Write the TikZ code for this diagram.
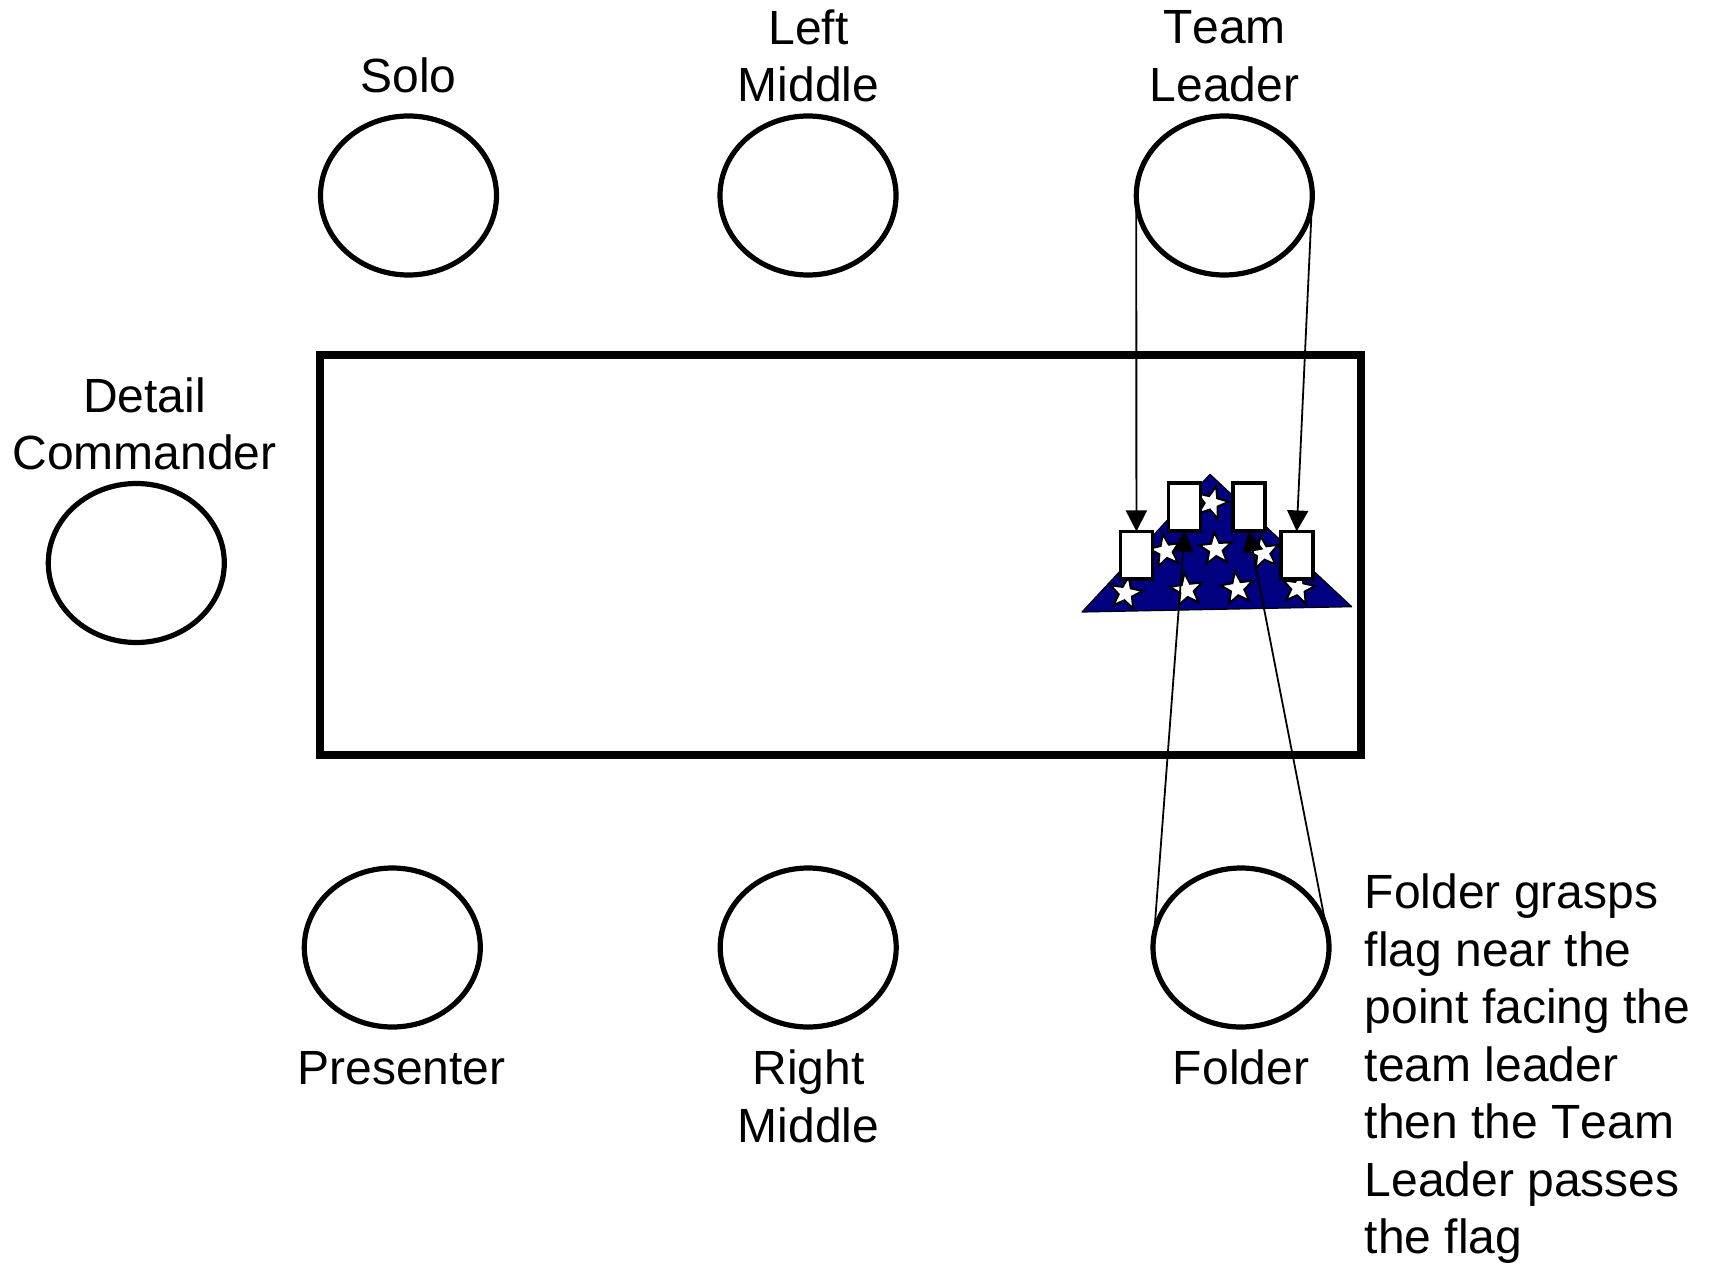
\documentclass[tikz,border=0pt]{standalone}
\usepackage{fontspec}
\setmainfont[Kerning=Off]{Liberation Sans}
\usetikzlibrary{shapes.geometric,arrows.meta}
\definecolor{flagblue}{HTML}{000080}
\tikzset{
  person/.style={ellipse,draw=black,line width=5.2pt,minimum width=176pt,minimum height=159pt,inner sep=0pt,outer sep=0pt},
  lbl/.style={font=\fontsize{48pt}{57.5pt}\selectfont,align=center,inner sep=0pt,text=black},
  cardbox/.style={rectangle,draw=black,fill=white,line width=3.6pt,minimum width=32pt,minimum height=47.5pt,inner sep=0pt,outer sep=0pt},
  flagstar/.style={star,star points=5,star point ratio=2.4,draw=black,fill=white,line width=2pt,minimum size=34pt,inner sep=0pt},
  mover/.style={line width=1.8pt,-{Triangle[length=21pt,width=21pt]},shorten >=0pt}
}
\begin{document}
\begin{tikzpicture}[x=1pt,y=-1pt]
\useasboundingbox (0,0) rectangle (1710,1265);
\node[rectangle,draw=black,line width=8.5pt,minimum width=1041pt,minimum height=400pt,inner sep=0pt] (table) at (840.5,555) {};
\node[person] (solo) at (408.5,195.5) {};
\node[person] (leftmid) at (808,195.5) {};
\node[person] (leader) at (1224.3,195.5) {};
\node[person] (commander) at (136.3,563) {};
\node[person] (presenter) at (392.3,947.5) {};
\node[person] (rightmid) at (808.2,947.5) {};
\node[person] (folder) at (1241,947.5) {};
\node[lbl] (tsolo) at (408.5,75) {Solo};
\node[lbl] (tleft) at (808.5,56) {Left\\Middle};
\node[lbl] (tleader) at (1224.5,56) {Team\\Leader};
\node[lbl] (tcomm) at (144.5,424) {Detail\\Commander};
\node[lbl] (tpres) at (401.5,1068) {Presenter};
\node[lbl] (tright) at (808.5,1096.5) {Right\\Middle};
\node[lbl] (tfold) at (1241,1067) {Folder};
\node[lbl,align=left,anchor=west] (tnote) at (1364.5,1069) {Folder grasps\\flag near the\\point facing the\\team leader\\then the Team\\Leader passes\\the flag};
\draw[black,fill=flagblue,line width=1.2pt,line join=round] (1210,474.3) -- (1351.7,606.7) -- (1082,612) -- cycle;
\foreach \n/\px/\py/\r in {a/1125.7/593.3/-10,b/1165.7/551/10,c/1211.7/502.7/-15,d/1215.7/549/5,e/1263.3/552.7/10,f/1186.7/590/8,g/1237.3/588.3/8,h/1298.3/588.3/-10}
  \node[flagstar,rotate=\r] (s\n) at (\px,\py) {};
\node[cardbox] (c1) at (1136.4,555.2) {};
\node[cardbox] (c2) at (1184.6,507) {};
\node[cardbox] (c3) at (1248.8,507) {};
\node[cardbox] (c4) at (1296.7,555.2) {};
\draw[mover] (leader.west) -- (c1.north);
\draw[mover] (leader.east) -- (c4.north);
\draw[mover] (folder.172) -- (c2.south);
\draw[mover] (folder.6) -- (c3.south);
\end{tikzpicture}
\end{document}
